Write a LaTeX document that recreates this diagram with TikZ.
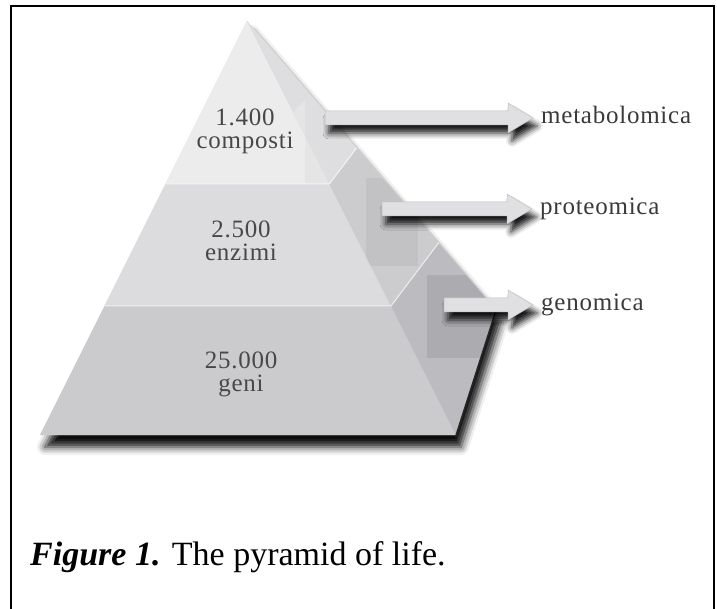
\documentclass[tikz,border=0pt]{standalone}
\usepackage{fontspec}
\setmainfont{Liberation Serif}
\usepackage{tikz}
\usetikzlibrary{positioning, calc, shadows.blur}
\definecolor{PyrTop}{RGB}{236, 236, 237}
\definecolor{PyrMid}{RGB}{220, 220, 222}
\definecolor{PyrLow}{RGB}{203, 203, 206}
\definecolor{SideTop}{RGB}{222, 222, 224}
\definecolor{SideMid}{RGB}{204, 204, 207}
\definecolor{SideLow}{RGB}{188, 188, 192}
\definecolor{SideDark}{RGB}{172, 172, 176}
\definecolor{ArrowGray}{RGB}{224, 224, 227}
\definecolor{InkGray}{RGB}{72, 72, 72}

\begin{document}
\begin{tikzpicture}[
    x=1pt, y=-1pt,
    band/.style={
        inner sep=0pt, align=center, text=InkGray,
        font=\fontsize{25}{23}\selectfont\addfontfeatures{LetterSpace=3}
    },
    omica/.style={
        inner sep=0pt, anchor=base west, text=InkGray!80!black,
        font=\fontsize{25}{26}\selectfont\addfontfeatures{LetterSpace=3}
    },
    blockarr/.style={
        fill=ArrowGray, draw=ArrowGray!85!black, line width=0.5pt,
        blur shadow={shadow xshift=4pt, shadow yshift=-8pt,
                     shadow blur radius=6pt, shadow opacity=90}
    },
    frame/.style={line width=2pt, black}
]
\useasboundingbox (0,0) rectangle (717,609);

% pyramid corners
\coordinate (apex) at (247,21);
\coordinate (BL)   at (40,435);
\coordinate (BR)   at (456,435);
\coordinate (back) at (496,310);
\coordinate (L1) at (165.5,184);
\coordinate (F1) at (329.3,184);
\coordinate (L2) at (104.5,306);
\coordinate (F2) at (391,306);
\coordinate (S1) at (356.5,148);
\coordinate (S2) at (438.5,243);

% body with shadow
\fill[PyrLow, blur shadow={shadow xshift=5pt, shadow yshift=-12pt,
      shadow blur radius=8pt, shadow opacity=95}]
    (apex) -- (back) -- (BR) -- (BL) -- cycle;

% front face
\fill[PyrTop] (apex) -- (F1) -- (L1) -- cycle;
\fill[PyrMid] (L1) -- (F1) -- (F2) -- (L2) -- cycle;
\fill[PyrLow] (L2) -- (F2) -- (BR) -- (BL) -- cycle;

% side face
\fill[SideTop] (apex) -- (S1) -- (F1) -- cycle;
\fill[SideMid] (F1) -- (S1) -- (S2) -- (F2) -- cycle;
\fill[SideLow] (F2) -- (S2) -- (back) -- (BR) -- cycle;
\begin{scope}
    \clip (apex) -- (back) -- (BR) -- cycle;
    \fill[SideMid!95!black] (366,178) rectangle (418,266);
    \fill[SideDark] (427,275) rectangle (492,358);
\end{scope}
\fill[PyrTop!97!black] (305,100) -- (305,184) -- (F1) -- ($(apex)!0.56!(F1)$) -- cycle;

\draw[white!70!PyrMid, line width=1pt] (L1) -- (F1) -- (S1);
\draw[white!70!PyrLow, line width=1pt] (L2) -- (F2) -- (S2);
\draw[black!85, line width=1.2pt] (back) -- (BR);

% numbers on the layers
\node[band] (compounds) at (245,131) {1.400\\composti};
\node[band] (enzymes)   at (241,241) {2.500\\enzimi};
\node[band] (genes)     at (241,374) {25.000\\geni};

% omics labels
\node[omica] (metab) at (541,124) {metabolomica};
\node[omica] (prot)  at (540,215) {proteomica};
\node[omica] (gen)   at (541,311) {genomica};

\coordinate (m0) at (325,118);
\coordinate (p0) at (382,209);
\coordinate (g0) at (444,305);

\foreach \from/\to in {m0/metab, p0/prot, g0/gen}
    \filldraw[blockarr]
        ($(\from)+(0,-7)$) -- ($(\to.base west)+(-33,-13)$)
        -- ($(\to.base west)+(-33,-21)$) -- ($(\to.base west)+(-8,-6)$)
        -- ($(\to.base west)+(-33,9)$) -- ($(\to.base west)+(-33,1)$)
        -- ($(\from)+(0,7)$) -- cycle;

% caption
\node[anchor=base west, inner sep=0pt, font=\fontsize{34}{36}\selectfont]
    (caption) at (30,565) {\textbf{\textit{Figure 1.}} The pyramid of life.};

% frame
\draw[frame] (11,609) -- (11,6) -- (714,6) -- (714,609);

\end{tikzpicture}
\end{document}
